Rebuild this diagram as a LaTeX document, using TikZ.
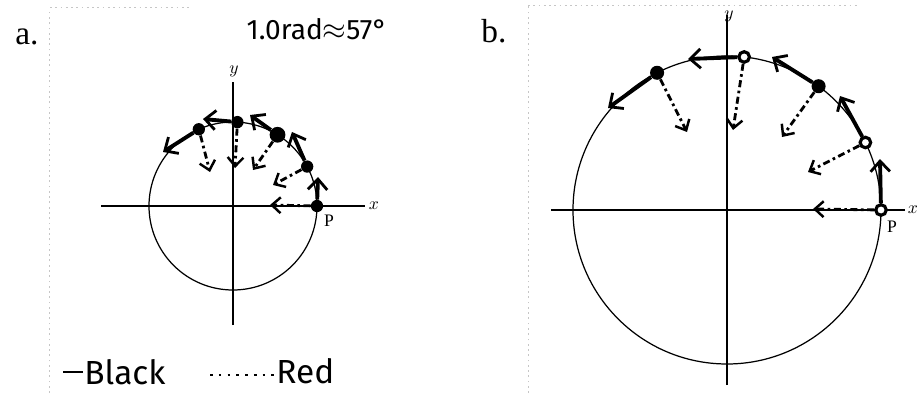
\documentclass[tikz,border=0pt]{standalone}
\usepackage{fontspec}
\setmainfont{Liberation Serif}
\newfontfamily\hand{Fira Sans}
\usetikzlibrary{arrows.meta}

\begin{document}
\begin{tikzpicture}[x=0.02cm,y=0.02cm,
  circ/.style={line width=0.7pt},
  axis/.style={line width=0.6pt},
  scan/.style={gray!45,line width=0.4pt,dash pattern=on 1pt off 2pt},
  dotf/.style={circle,fill,inner sep=0pt,minimum size=7pt},
  doth/.style={circle,draw,fill=white,line width=1.8pt,inner sep=0pt,minimum size=6pt},
  vel/.style={line width=2.2pt,-{Straight Barb[length=6pt,width=11pt,line width=1.6pt]}},
  acc/.style={line width=1.6pt,dash pattern=on 4pt off 2pt on 1.5pt off 2pt,
              -{Straight Barb[length=5pt,width=9pt,line width=1.4pt]}},
  ax/.style={font=\fontsize{10}{12}\selectfont},
  tag/.style={font=\fontsize{19}{22}\selectfont},
  hw/.style={font=\hand\fontsize{16}{18}\selectfont},
  key/.style={font=\hand\fontsize{19}{21}\selectfont,inner sep=0pt,anchor=west}
]
\useasboundingbox (0,0) rectangle (917,393);
\draw[scan] (49,0) -- (49,381);
\draw[scan] (50,386) -- (190,386);
\draw[scan] (528,0) -- (528,388);
\draw[scan] (528,388) -- (860,388);

% panel a
\node[tag] (la) at (27,356) {a.};
\node[hw] (title) at (317,364) {1.0rad$\approx$57°};
\coordinate (ca) at (233,187);
\draw[axis] (101,187) coordinate (axl) -- (365,187) coordinate (axr);
\draw[axis] (233,68) coordinate (ayb) -- (233,311) coordinate (ayt);
\node[ax] (xa) at (374,187) {$x$};
\node[ax] (ya) at (234,322) {$y$};
\draw[circ] (ca) circle[radius=84];
\node[ax] (pa) at (329,172) {P};
\node[dotf] (a0) at ([shift={(0:84)}]ca) {};
\node[dotf] (a1) at ([shift={(28:84)}]ca) {};
\node[dotf,minimum size=9pt] (a2) at ([shift={(58:84)}]ca) {};
\node[dotf] (a3) at ([shift={(87:84)}]ca) {};
\node[dotf] (a4) at ([shift={(114:84)}]ca) {};
\coordinate (va0) at (318,216);
\coordinate (va1) at (292,261);
\coordinate (va2) at (250,278);
\coordinate (va3) at (203,274);
\coordinate (va4) at (163,241);
\coordinate (ra0) at (270,188);
\coordinate (ra1) at (273,208);
\coordinate (ra2) at (253,223);
\coordinate (ra3) at (235,225);
\coordinate (ra4) at (210,221);
\foreach \i in {0,...,4} {
  \draw[vel] (a\i) -- (va\i);
  \draw[acc] (a\i) -- (ra\i);
}
\draw[line width=1.3pt] (63,21) -- (83,21);
\node[key] (blk) at (84,21) {Black};
\draw[line width=1.5pt,dash pattern=on 1.5pt off 3.5pt] (210,18) -- (274,18);
\node[key] (red) at (276,22) {Red};

% panel b
\node[tag] (lb) at (494,362) {b.};
\coordinate (cb) at (727,183);
\draw[axis] (551,183) coordinate (bxl) -- (905,183) coordinate (bxr);
\draw[axis] (727,8) coordinate (byb) -- (727,378) coordinate (byt);
\node[ax] (xb) at (913,183) {$x$};
\node[ax] (yb) at (729,377) {$y$};
\draw[circ] (cb) circle[radius=154];
\node[ax] (pb) at (892,166) {P};
\node[doth] (b0) at ([shift={(0:154)}]cb) {};
\node[doth] (b1) at ([shift={(26:154)}]cb) {};
\node[dotf,minimum size=8pt] (b2) at ([shift={(53.5:154)}]cb) {};
\node[doth] (b3) at ([shift={(83.6:154)}]cb) {};
\node[dotf,minimum size=8pt] (b4) at ([shift={(117:154)}]cb) {};
\coordinate (vb0) at (880,234);
\coordinate (vb1) at (840,297);
\coordinate (vb2) at (772,336);
\coordinate (vb3) at (688,334);
\coordinate (vb4) at (608,285);
\coordinate (rb0) at (813,184);
\coordinate (rb1) at (808,221);
\coordinate (rb2) at (782,256);
\coordinate (rb3) at (733,263);
\coordinate (rb4) at (687,261);
\foreach \i in {0,...,4} {
  \draw[vel] (b\i) -- (vb\i);
  \draw[acc] (b\i) -- (rb\i);
}
\end{tikzpicture}
\end{document}
